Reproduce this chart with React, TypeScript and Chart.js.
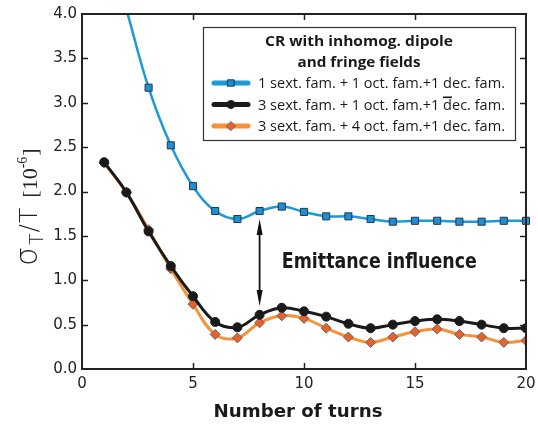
import React, { useEffect, useRef } from 'react';
import { Chart, registerables } from 'chart.js';

Chart.register(...registerables);

const turns = [1, 2, 3, 4, 5, 6, 7, 8, 9, 10, 11, 12, 13, 14, 15, 16, 17, 18, 19, 20];
const blueValues = [4.9, 4.05, 3.17, 2.52, 2.06, 1.78, 1.69, 1.78, 1.83, 1.77, 1.72, 1.72, 1.69, 1.66, 1.67, 1.67, 1.66, 1.66, 1.67, 1.67];
const blackValues = [2.33, 1.99, 1.55, 1.16, 0.82, 0.53, 0.47, 0.61, 0.69, 0.65, 0.59, 0.51, 0.46, 0.5, 0.54, 0.56, 0.54, 0.5, 0.46, 0.46];
const orangeValues = [2.32, 1.99, 1.57, 1.13, 0.73, 0.39, 0.35, 0.52, 0.6, 0.57, 0.46, 0.36, 0.3, 0.36, 0.42, 0.45, 0.39, 0.36, 0.3, 0.32];
const seriesLabels = [
  '1 sext. fam. + 1 oct. fam.+1 dec. fam.',
  '3 sext. fam. + 1 oct. fam.+1 d\u0305ec. fam.',
  '3 sext. fam. + 4 oct. fam.+1 dec. fam.',
];
const legendTitle = ['CR with inhomog. dipole', 'and fringe fields'];
const xTitle = 'Number of turns';
const annotationText = 'Emittance influence';
const annotationAt = { x: 9.0, y: 1.14 };
const arrowSpan = { x: 8, from: 1.69, to: 0.71 };
const xRange = { min: 0, max: 20, step: 5 };
const yRange = { min: 0, max: 4, step: 0.5 };

const BLUE = '#1b9ad7';
const BLACK = '#1a1a1a';
const ORANGE = '#f5923a';

function fitText(ctx: CanvasRenderingContext2D, text: string, x: number, y: number, width: number, align: 'left' | 'center') {
  const w = ctx.measureText(text).width;
  const s = Math.min(1.15, width / w);
  ctx.save();
  const left = align === 'center' ? x - (w * s) / 2 : x;
  ctx.translate(left, y);
  ctx.scale(s, 1);
  ctx.textAlign = 'left';
  ctx.fillText(text, 0, 0);
  ctx.restore();
}

function drawMarker(ctx: CanvasRenderingContext2D, style: string, x: number, y: number, r: number, fill: string, stroke: string) {
  ctx.save();
  ctx.beginPath();
  if (style === 'rect') {
    const h = r * Math.SQRT1_2;
    ctx.rect(x - h, y - h, 2 * h, 2 * h);
  } else if (style === 'rectRot') {
    ctx.moveTo(x - r, y);
    ctx.lineTo(x, y - r);
    ctx.lineTo(x + r, y);
    ctx.lineTo(x, y + r);
    ctx.closePath();
  } else {
    ctx.arc(x, y, r, 0, Math.PI * 2);
  }
  ctx.fillStyle = fill;
  ctx.fill();
  ctx.lineWidth = 1;
  ctx.strokeStyle = stroke;
  ctx.stroke();
  ctx.restore();
}

const decorPlugin = {
  id: 'decor',
  afterDraw(chart: any) {
    const ctx: CanvasRenderingContext2D = chart.ctx;
    const { left, right, top, bottom } = chart.chartArea;
    const xs = chart.scales.x;
    const ys = chart.scales.y;
    ctx.save();
    // frame
    ctx.strokeStyle = '#222';
    ctx.lineWidth = 2;
    ctx.strokeRect(left, top, right - left, bottom - top);
    // inward ticks
    ctx.lineWidth = 1.5;
    ctx.beginPath();
    for (let v = xRange.min + xRange.step; v < xRange.max; v += xRange.step) {
      const px = Math.round(xs.getPixelForValue(v)) + 0.5;
      ctx.moveTo(px, bottom);
      ctx.lineTo(px, bottom - 6);
      ctx.moveTo(px, top);
      ctx.lineTo(px, top + 6);
    }
    for (let v = yRange.min + yRange.step; v < yRange.max - 1e-9; v += yRange.step) {
      const py = Math.round(ys.getPixelForValue(v)) + 0.5;
      ctx.moveTo(left, py);
      ctx.lineTo(left + 6, py);
      ctx.moveTo(right, py);
      ctx.lineTo(right - 6, py);
    }
    ctx.stroke();

    // arrow
    const ax = xs.getPixelForValue(arrowSpan.x);
    const a1 = ys.getPixelForValue(arrowSpan.from);
    const a2 = ys.getPixelForValue(arrowSpan.to);
    ctx.strokeStyle = '#111';
    ctx.fillStyle = '#111';
    ctx.lineWidth = 1.8;
    ctx.beginPath();
    ctx.moveTo(ax, a1 + 10);
    ctx.lineTo(ax, a2 - 10);
    ctx.stroke();
    ctx.beginPath();
    ctx.moveTo(ax, a1);
    ctx.lineTo(ax - 3, a1 + 16);
    ctx.lineTo(ax + 3, a1 + 16);
    ctx.closePath();
    ctx.fill();
    ctx.beginPath();
    ctx.moveTo(ax, a2);
    ctx.lineTo(ax - 3, a2 - 16);
    ctx.lineTo(ax + 3, a2 - 16);
    ctx.closePath();
    ctx.fill();

    // annotation text
    ctx.fillStyle = '#1a1a1a';
    ctx.font = 'bold 22px "DejaVu Sans Condensed", "DejaVu Sans"';
    ctx.textBaseline = 'alphabetic';
    fitText(ctx, annotationText, xs.getPixelForValue(annotationAt.x), ys.getPixelForValue(annotationAt.y), 195, 'left');

    // x title
    ctx.font = 'bold 17px "DejaVu Sans"';
    fitText(ctx, xTitle, (left + right) / 2 - 6, bottom + 48, 169, 'center');

    // y title
    ctx.save();
    ctx.translate(37, 266);
    ctx.rotate(-Math.PI / 2);
    ctx.fillStyle = '#222';
    let p = 0;
    ctx.font = '300 30px "DejaVu Sans"';
    ctx.fillText('\u03c3', p, 0);
    p += ctx.measureText('\u03c3').width + 2;
    ctx.font = '300 19px "DejaVu Sans"';
    ctx.fillText('T', p, 6);
    p += ctx.measureText('T').width + 1;
    ctx.font = '300 25px "DejaVu Sans"';
    ctx.fillText('/', p, 0);
    p += ctx.measureText('/').width + 1;
    ctx.fillText('T', p, 0);
    p += ctx.measureText('T').width + 10;
    ctx.font = '22px "Liberation Serif"';
    ctx.fillText('[10', p, 0);
    p += ctx.measureText('[10').width;
    ctx.font = '14px "Liberation Serif"';
    ctx.fillText('-6', p, -10);
    p += ctx.measureText('-6').width + 1;
    ctx.font = '22px "Liberation Serif"';
    ctx.fillText(']', p, 0);
    ctx.restore();

    // legend box
    const bx = right - 323;
    const by = top + 13;
    const bw = 312;
    const bh = 113;
    ctx.fillStyle = '#ffffff';
    ctx.fillRect(bx, by, bw, bh);
    ctx.strokeStyle = '#333';
    ctx.lineWidth = 1.2;
    ctx.strokeRect(bx + 0.5, by + 0.5, bw, bh);
    ctx.fillStyle = '#1a1a1a';
    ctx.font = 'bold 15px "Open Sans"';
    fitText(ctx, legendTitle[0], bx + bw / 2, by + 19, 188, 'center');
    fitText(ctx, legendTitle[1], bx + bw / 2, by + 40, 123, 'center');
    const metas = chart.data.datasets;
    metas.forEach((ds: any, i: number) => {
      const cy = by + 56 + i * 21.5;
      ctx.strokeStyle = ds.borderColor;
      ctx.lineWidth = 5;
      ctx.lineCap = 'round';
      ctx.beginPath();
      ctx.moveTo(bx + 11, cy);
      ctx.lineTo(bx + 45, cy);
      ctx.stroke();
      drawMarker(ctx, ds.pointStyle, bx + 28, cy, ds.pointRadius - 0.5, ds.pointBackgroundColor, ds.pointBorderColor);
      ctx.fillStyle = '#1a1a1a';
      ctx.font = '14px "Open Sans"';
      const raw: string = ds.label;
      const idx = raw.indexOf('\u0305');
      const plain = raw.replace('\u0305', '');
      const tx = bx + 55;
      const ty = cy + 5;
      const natural = ctx.measureText(plain).width;
      const s = 247 / natural;
      ctx.save();
      ctx.translate(tx, ty);
      ctx.scale(s, 1);
      ctx.fillText(plain, 0, 0);
      if (idx > 0) {
        const pre = ctx.measureText(plain.slice(0, idx - 1)).width;
        const cw = ctx.measureText(plain.charAt(idx - 1)).width;
        ctx.fillRect(pre, -13, cw, 1.6);
      }
      ctx.restore();
    });
    ctx.restore();
  },
};

export default function App() {
  const ref = useRef<HTMLCanvasElement>(null);
  useEffect(() => {
    const mk = (vals: number[]) => turns.map((t, i) => ({ x: t, y: vals[i] }));
    const chart = new Chart(ref.current as HTMLCanvasElement, {
      type: 'line',
      data: {
        datasets: [
          {
            label: seriesLabels[0],
            data: mk(blueValues),
            borderColor: BLUE,
            borderWidth: 2.5,
            pointStyle: 'rect',
            pointRadius: 5,
            pointBackgroundColor: '#1f8fd2',
            pointBorderColor: '#1f3550',
            pointBorderWidth: 1,
            tension: 0.4,
            clip: { left: 10, right: 10, top: 0, bottom: 10 },
          } as any,
          {
            label: seriesLabels[1],
            data: mk(blackValues),
            borderColor: BLACK,
            borderWidth: 3,
            pointStyle: 'circle',
            pointRadius: 4.5,
            pointBackgroundColor: BLACK,
            pointBorderColor: BLACK,
            pointBorderWidth: 1,
            tension: 0.4,
          },
          {
            label: seriesLabels[2],
            data: mk(orangeValues),
            borderColor: ORANGE,
            borderWidth: 3,
            pointStyle: 'rectRot',
            pointRadius: 5,
            pointBackgroundColor: '#e8602a',
            pointBorderColor: '#666666',
            pointBorderWidth: 1,
            tension: 0.4,
          },
        ],
      },
      options: {
        responsive: false,
        animation: false,
        layout: { padding: { left: 0, right: 12, top: 14, bottom: 0 } },
        plugins: { legend: { display: false }, tooltip: { enabled: false } },
        scales: {
          x: {
            type: 'linear',
            min: xRange.min,
            max: xRange.max,
            grid: { display: false, drawTicks: false },
            border: { display: false },
            ticks: {
              stepSize: xRange.step,
              padding: 6,
              color: '#222',
              font: { family: '"DejaVu Sans"', size: 15 },
              maxRotation: 0,
            },
            afterFit: (s: any) => {
              s.height = 55;
              s.paddingLeft = 0;
              s.paddingRight = 0;
            },
          },
          y: {
            min: yRange.min,
            max: yRange.max,
            grid: { display: false, drawTicks: false },
            border: { display: false },
            ticks: {
              stepSize: yRange.step,
              padding: 5,
              color: '#222',
              font: { family: '"DejaVu Sans"', size: 15 },
              callback: (v: any) => Number(v).toFixed(1),
            },
            afterFit: (s: any) => {
              s.width = 82;
              s.paddingTop = 0;
              s.paddingBottom = 0;
            },
          },
        },
      },
      plugins: [decorPlugin],
    });
    return () => chart.destroy();
  }, []);
  return (
    <div style={{ position: 'absolute', left: 0, top: 0, width: 538, height: 424, background: '#fff' }}>
      <canvas ref={ref} width={538} height={424} />
    </div>
  );
}
